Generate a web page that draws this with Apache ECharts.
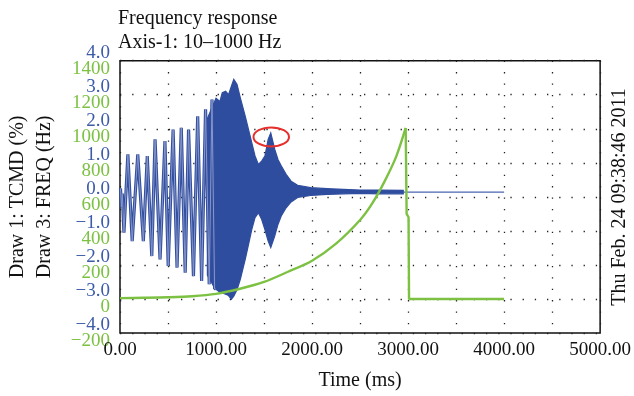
<!DOCTYPE html>
<html><head><meta charset="utf-8">
<script src="https://cdn.jsdelivr.net/npm/echarts@6/dist/echarts.min.js"></script>
<style>html,body{margin:0;padding:0;background:#fff}#c{width:634px;height:396px}</style>
</head><body><div id="c"></div>
<script>
// ---- text ----
const titleLines = ['Frequency response', 'Axis-1: 10\u20131000 Hz'];
const dateText = 'Thu Feb. 24 09:38:46 2011';
const xAxisName = 'Time (ms)';
const tcmdName = 'Draw 1: TCMD (%)';
const freqName = 'Draw 3: FREQ (Hz)';

// ---- tick labels ----
const xTickLabels = ['0.00', '1000.00', '2000.00', '3000.00', '4000.00', '5000.00'];
const tcmdTickLabels = ['\u22124.0', '\u22123.0', '\u22122.0', '\u22121.0', '0.0', '1.0', '2.0', '3.0', '4.0'];
const freqTickLabels = ['\u2212200', '0', '200', '400', '600', '800', '1000', '1200', '1400'];

// ---- TCMD (%) : early, resolved oscillation (flat-topped peaks / troughs) ----
const oscT = [5, 15, 24, 41, 61, 82, 102, 127, 147, 185, 205, 243, 263, 284, 304, 331, 351, 365, 385, 417, 437, 468, 488, 502, 522, 553, 573, 594, 614, 638, 658, 679, 699, 714, 734, 765, 785, 809, 829, 850, 870, 891, 911, 929, 949, 958, 968, 985, 995];
const oscV = [0.25, -0.3, 0.1, -1.05, -1.05, 1.25, 1.25, -1.3, -1.3, 1.25, 1.25, -1.3, -1.3, 1.2, 1.2, -1.74, -1.74, 1.69, 1.69, -1.84, -1.84, 1.64, 1.64, -2.03, -2.03, 1.98, 1.98, -2.08, -2.08, 2.03, 2.03, -2.23, -2.23, 1.98, 1.98, -2.33, -2.33, 2.37, 2.37, -2.47, -2.47, 2.57, 2.57, -2.57, -2.57, 2.86, 2.86, -2.7, -2.7];

// ---- TCMD (%) : dense part, upper and lower envelope ----
const bandT  = [910, 940, 970, 1000, 1040, 1065, 1100, 1130, 1160, 1185, 1219, 1253, 1304, 1338, 1372, 1406, 1441, 1475, 1509, 1543, 1570, 1611, 1645, 1679, 1730, 1782, 1850, 1986, 2157, 2326, 2500, 2700, 2950];
const bandHi = [2.3, 2.5, 2.7, 2.9, 2.8, 3.06, 3.1, 3.0, 3.25, 3.45, 3.3, 2.91, 2.37, 1.98, 1.59, 1.2, 0.95, 1.05, 1.2, 1.69, 1.88, 1.4, 1.1, 0.91, 0.66, 0.46, 0.34, 0.27, 0.24, 0.22, 0.2, 0.2, 0.19];
const bandLo = [-2.3, -2.45, -2.6, -2.72, -2.8, -2.82, -2.86, -2.9, -3.01, -2.92, -2.72, -2.42, -1.84, -1.4, -0.96, -0.61, -0.47, -0.66, -0.96, -1.3, -1.49, -1.15, -0.81, -0.56, -0.32, -0.15, -0.02, 0.04, 0.07, 0.09, 0.1, 0.09, 0.09];

// ---- TCMD (%) : settled tail ----
const tailT = [2950, 4000];
const tailV = [0.14, 0.14];

// ---- FREQ (Hz) : sweep, then reset ----
const sweepT = [0, 250, 500, 750, 1000, 1250, 1500, 1750, 2000, 2250, 2500, 2625, 2750, 2875, 2975];
const sweepV = [5, 7, 10, 16, 30, 60, 100, 160, 225, 325, 464, 560, 685, 835, 1005];
const resetT = [2975, 2985, 3005, 3010, 4000];
const resetV = [1005, 500, 480, 0, 0];

// ---- annotation (red ellipse around 2nd peak) ----
const markCenter = [1575, 1.76];
const markHalf = [185, 0.28];

const BLUE = '#2f4d9e';
const BLUE_LINE = '#33509f';
const BLUE_CORE = '#8796cc';
const BLUE_LBL = '#3d5ba9';
const GREEN = '#7cc142';
const FONT = 'Liberation Serif';

const zip = (a, b) => a.map((v, i) => [v, b[i]]);

const chart = echarts.init(document.getElementById('c'), null, {renderer: 'canvas'});
const dateGraphic = {
  type: 'text', x: 620, y: 197, rotation: Math.PI / 2,
  style: {text: dateText, fontFamily: FONT, fontSize: 20, fill: '#111', align: 'center', verticalAlign: 'middle'}
};
const option = {
  animation: false,
  backgroundColor: '#fff',
  textStyle: {fontFamily: FONT},
  title: {
    text: titleLines.join('\n'), left: 113, top: 2,
    textStyle: {fontFamily: FONT, fontSize: 20, fontWeight: 'normal', color: '#111', lineHeight: 24}
  },
  grid: {left: 115.5, right: 27, top: 60.7, bottom: 63, show: true, borderColor: '#111', borderWidth: 1.5, backgroundColor: 'transparent'},
  xAxis: {
    type: 'value', min: 0, max: 5000, interval: 500,
    name: xAxisName, nameLocation: 'middle', nameGap: 38,
    nameTextStyle: {fontFamily: FONT, fontSize: 20, color: '#111'},
    axisLine: {show: false}, axisTick: {show: false},
    axisLabel: {
      margin: 8, fontFamily: FONT, fontSize: 19, color: '#111',
      formatter: v => (v % 1000 === 0 ? xTickLabels[v / 1000] : '')
    },
    splitLine: {show: true, lineStyle: {color: '#222', width: 1.3, type: [1.3, 10.1]}}
  },
  yAxis: [
    {
      type: 'value', min: -4, max: 4, interval: 1, position: 'left',
      name: tcmdName, nameLocation: 'middle', nameGap: 92,
      nameTextStyle: {fontFamily: FONT, fontSize: 20, color: '#111'},
      axisLine: {show: false}, axisTick: {show: false},
      axisLabel: {
        margin: 10, fontFamily: FONT, fontSize: 19, color: BLUE_LBL, verticalAlign: 'bottom', lineHeight: 16,
        formatter: v => tcmdTickLabels[Math.round(v) + 4]
      },
      splitLine: {show: true, lineStyle: {color: '#222', width: 1.3, type: [1.3, 10.9]}}
    },
    {
      type: 'value', min: -200, max: 1400, interval: 200, position: 'left',
      name: freqName, nameLocation: 'middle', nameGap: 65,
      nameTextStyle: {fontFamily: FONT, fontSize: 20, color: '#111'},
      axisLine: {show: false}, axisTick: {show: false},
      axisLabel: {
        margin: 10, fontFamily: FONT, fontSize: 19, color: GREEN, verticalAlign: 'top', lineHeight: 16,
        formatter: v => freqTickLabels[Math.round(v / 200) + 1]
      },
      splitLine: {show: false}
    }
  ],
  series: [
    {
      type: 'custom', xAxisIndex: 0, yAxisIndex: 0, silent: true, z: 2,
      data: [[bandT[0], bandHi[0]]],
      renderItem: (params, api) => {
        const pts = [];
        for (let i = 0; i < bandT.length; i++) pts.push(api.coord([bandT[i], bandHi[i]]));
        for (let i = bandT.length - 1; i >= 0; i--) pts.push(api.coord([bandT[i], bandLo[i]]));
        return {type: 'polygon', shape: {points: pts}, style: {fill: BLUE, stroke: BLUE, lineWidth: 1.2}};
      }
    },
    {
      type: 'line', xAxisIndex: 0, yAxisIndex: 0, data: zip(oscT, oscV), showSymbol: false, z: 3,
      lineStyle: {color: BLUE_LINE, width: 3.2}
    },
    {
      type: 'line', xAxisIndex: 0, yAxisIndex: 0, data: zip(oscT, oscV), showSymbol: false, z: 3,
      lineStyle: {color: BLUE_CORE, width: 1}
    },
    {
      type: 'line', xAxisIndex: 0, yAxisIndex: 0, data: zip(tailT, tailV), showSymbol: false, z: 3,
      lineStyle: {color: '#4a64b0', width: 1.4}
    },
    {
      type: 'line', xAxisIndex: 0, yAxisIndex: 1, data: zip(sweepT, sweepV), showSymbol: false, smooth: 0.3, z: 4,
      lineStyle: {color: GREEN, width: 2.4}
    },
    {
      type: 'line', xAxisIndex: 0, yAxisIndex: 1, data: zip(resetT, resetV), showSymbol: false, z: 4,
      lineStyle: {color: GREEN, width: 2.4}
    }
  ],
  graphic: [dateGraphic]
};
chart.setOption(option);

const c = chart.convertToPixel({xAxisIndex: 0, yAxisIndex: 0}, markCenter);
const e = chart.convertToPixel({xAxisIndex: 0, yAxisIndex: 0}, [markCenter[0] + markHalf[0], markCenter[1] + markHalf[1]]);
chart.setOption({
  graphic: [
    dateGraphic,
    {
      type: 'ellipse', z: 100,
      shape: {cx: c[0], cy: c[1], rx: Math.abs(e[0] - c[0]), ry: Math.abs(c[1] - e[1])},
      style: {fill: 'none', stroke: '#e5302b', lineWidth: 2}
    }
  ]
}, {replaceMerge: ['graphic']});
</script>
</body></html>
